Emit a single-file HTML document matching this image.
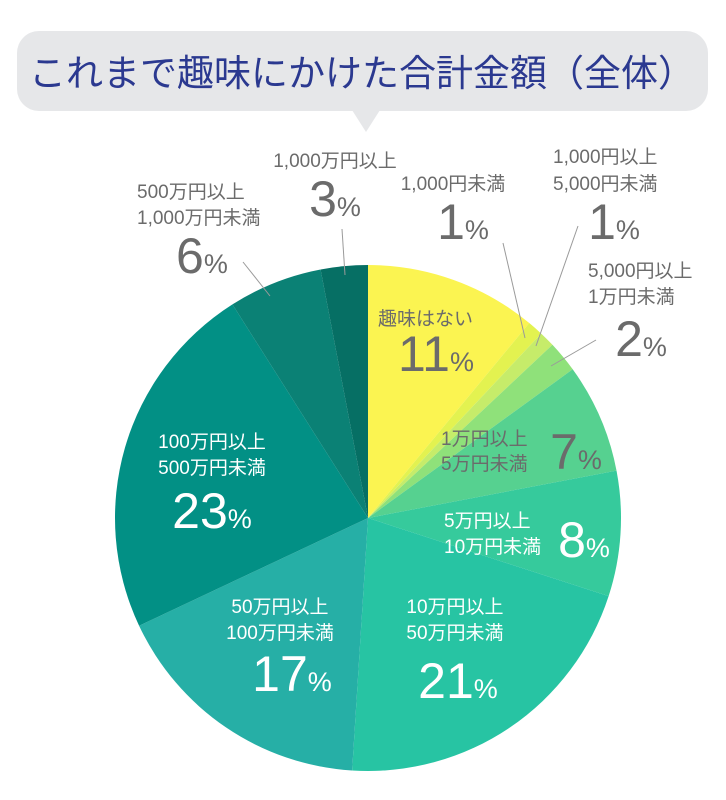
<!DOCTYPE html>
<html><head><meta charset="utf-8"><style>
body{margin:0;background:#fff;}
svg{display:block;font-family:"Liberation Sans","Noto Sans CJK JP",sans-serif;}
.s{font-size:19px;fill:#6b6b6b;}
.b{font-size:50px;fill:#6b6b6b;}
.p{font-size:27px;}
.w{fill:#fff;}
</style></head><body>
<svg id="c" width="726" height="800" viewBox="0 0 726 800">
<rect x="17" y="31" width="691" height="80" rx="22" fill="#e6e7e9"/>
<polygon points="352,110 380,110 366,132" fill="#e6e7e9"/>
<text x="362" y="86" text-anchor="middle" font-size="37" fill="#2b3990">これまで趣味にかけた合計金額（全体）</text>
<g id="pie"></g>
<g stroke="#9a9a9a" stroke-width="1">
<line x1="342" y1="229" x2="345" y2="275"/>
<line x1="243" y1="262" x2="270" y2="296"/>
<line x1="503" y1="243" x2="525" y2="338"/>
<line x1="578" y1="226" x2="536" y2="346"/>
<line x1="596" y1="340" x2="551" y2="366"/>
</g>
<text class="s" x="335" y="167" text-anchor="middle">1,000万円以上</text>
<text class="b" x="335" y="216" text-anchor="middle">3<tspan class="p">%</tspan></text>
<text class="s" x="137" y="198">500万円以上</text>
<text class="s" x="137" y="224">1,000万円未満</text>
<text class="b" x="176" y="273">6<tspan class="p">%</tspan></text>
<text class="s" x="453" y="190" text-anchor="middle">1,000円未満</text>
<text class="b" x="463" y="239" text-anchor="middle">1<tspan class="p">%</tspan></text>
<text class="s" x="553" y="163">1,000円以上</text>
<text class="s" x="553" y="190">5,000円未満</text>
<text class="b" x="614" y="239" text-anchor="middle">1<tspan class="p">%</tspan></text>
<text class="s" x="588" y="277">5,000円以上</text>
<text class="s" x="588" y="303">1万円未満</text>
<text class="b" x="641" y="356" text-anchor="middle">2<tspan class="p">%</tspan></text>
<text class="s" x="378" y="325">趣味はない</text>
<text class="b" x="436" y="371" text-anchor="middle">11<tspan class="p">%</tspan></text>
<text class="s" x="441" y="445">1万円以上</text>
<text class="s" x="441" y="470">5万円未満</text>
<text class="b" x="576" y="469" text-anchor="middle">7<tspan class="p">%</tspan></text>
<text class="s w" x="444" y="527">5万円以上</text>
<text class="s w" x="444" y="553">10万円未満</text>
<text class="b w" x="584" y="557" text-anchor="middle">8<tspan class="p">%</tspan></text>
<text class="s w" x="455" y="613" text-anchor="middle">10万円以上</text>
<text class="s w" x="455" y="639" text-anchor="middle">50万円未満</text>
<text class="b w" x="458" y="698" text-anchor="middle">21<tspan class="p">%</tspan></text>
<text class="s w" x="280" y="613" text-anchor="middle">50万円以上</text>
<text class="s w" x="280" y="639" text-anchor="middle">100万円未満</text>
<text class="b w" x="292" y="691" text-anchor="middle">17<tspan class="p">%</tspan></text>
<text class="s w" x="212" y="448" text-anchor="middle">100万円以上</text>
<text class="s w" x="212" y="474" text-anchor="middle">500万円未満</text>
<text class="b w" x="212" y="528" text-anchor="middle">23<tspan class="p">%</tspan></text>
</svg>
<script>
var cx=368,cy=518,r=253;
var d=[[11,"#fbf451"],[1,"#e3f250"],[1,"#c6ec6a"],[2,"#8fe17a"],[7,"#56d190"],[8,"#36ca9c"],[21,"#27c4a3"],[17,"#26afa6"],[23,"#029085"],[6,"#0b8175"],[3,"#066f64"]];
var g=document.getElementById("pie"),a=0,s="";
d.forEach(function(e){var a0=a;a+=e[0]/100*2*Math.PI;
var x0=cx+r*Math.sin(a0),y0=cy-r*Math.cos(a0),x1=cx+r*Math.sin(a),y1=cy-r*Math.cos(a);
s+='<path fill="'+e[1]+'" d="M'+cx+','+cy+'L'+x0+','+y0+'A'+r+','+r+' 0 '+(a-a0>Math.PI?1:0)+' 1 '+x1+','+y1+'Z"/>';});
g.innerHTML=s;
</script>
</body></html>
